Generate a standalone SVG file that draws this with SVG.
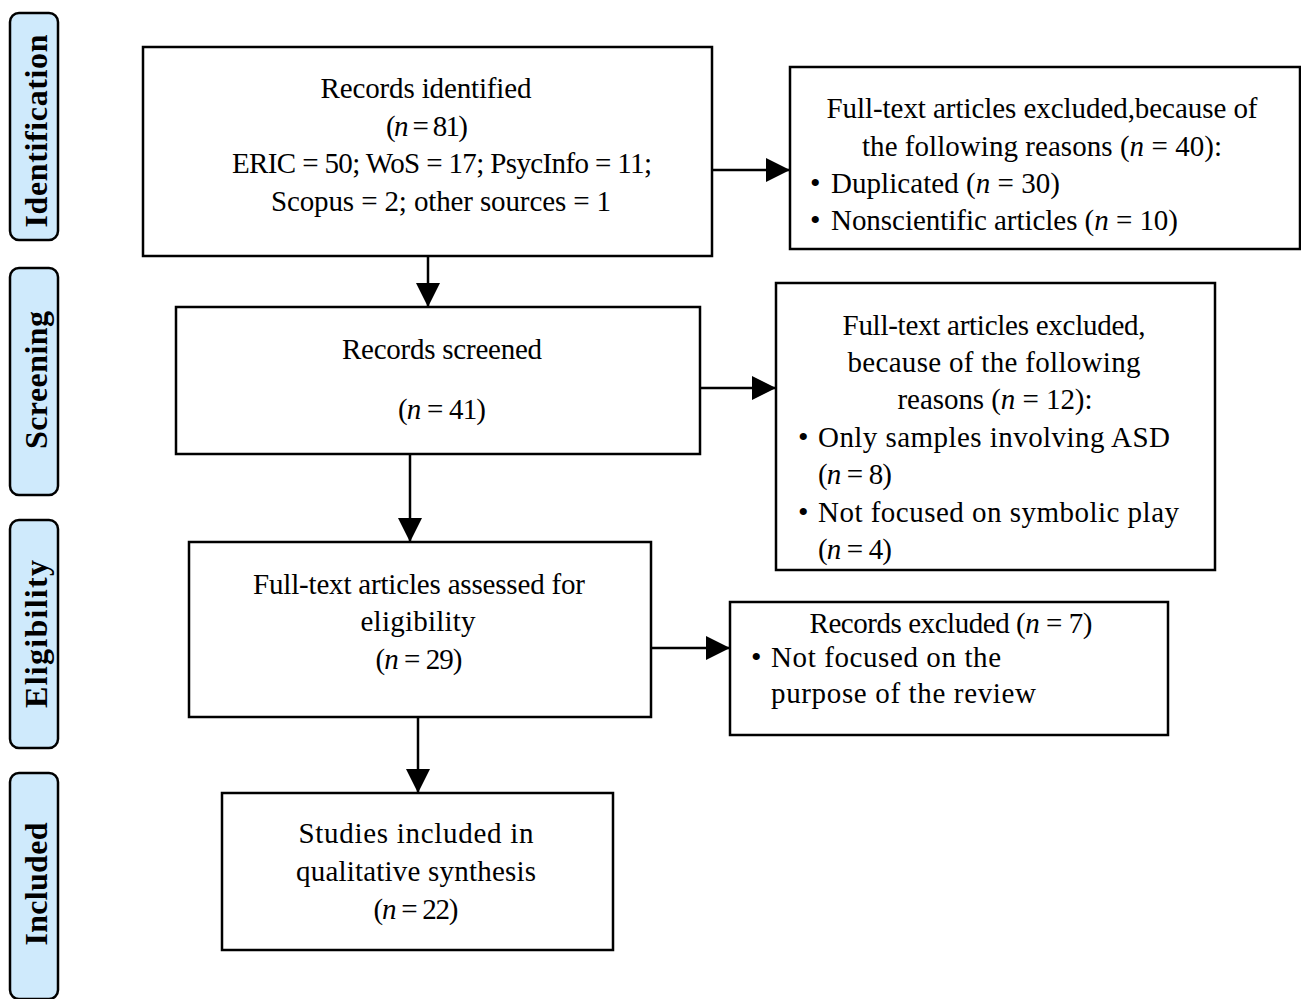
<svg xmlns="http://www.w3.org/2000/svg" width="1301" height="999" viewBox="0 0 1301 999">
<defs>
<marker id="ah" markerWidth="24" markerHeight="24" refX="24" refY="12" orient="auto" markerUnits="userSpaceOnUse" viewBox="0 0 24 24">
<path d="M0,0 L24,12 L0,24 Z" fill="#000"/>
</marker>
<style>
.box{fill:#fff;stroke:#000;stroke-width:2.5}
.side{fill:#cfeafc;stroke:#000;stroke-width:2.5}
.t{font-family:"Liberation Serif","DejaVu Serif",serif;font-size:29px;fill:#000}
.c{text-anchor:middle}
.b{font-family:"Liberation Serif","DejaVu Serif",serif;font-size:30px;fill:#000}
.sl{font-family:"Liberation Serif","DejaVu Serif",serif;font-size:32px;font-weight:bold;fill:#000;text-anchor:middle}
.conn line{stroke:#000;stroke-width:2.5}
.i{font-style:italic}
</style>
</defs>
<rect width="1301" height="999" fill="#fff"/>

<g id="side-identification">
<rect class="side" x="10" y="13" width="48" height="227" rx="9"/>
<text class="sl" transform="translate(47,131) rotate(-90)" textLength="193">Identification</text>
</g>
<g id="side-screening">
<rect class="side" x="10" y="268" width="48" height="227" rx="9"/>
<text class="sl" transform="translate(47,380) rotate(-90)" textLength="138">Screening</text>
</g>
<g id="side-eligibility">
<rect class="side" x="10" y="520" width="48" height="228" rx="9"/>
<text class="sl" transform="translate(47,634) rotate(-90)" textLength="148">Eligibility</text>
</g>
<g id="side-included">
<rect class="side" x="10" y="773" width="48" height="226" rx="9"/>
<text class="sl" transform="translate(47,884) rotate(-90)" textLength="123">Included</text>
</g>

<g id="identified">
<rect class="box" x="143" y="47" width="569" height="209"/>
<text class="t c" x="426" y="98" textLength="211">Records identified</text>
<text class="t c" x="427" y="136" textLength="82">(<tspan class="i">n</tspan> = 81)</text>
<text class="t c" x="442" y="173" textLength="420">ERIC = 50; WoS = 17; PsycInfo = 11;</text>
<text class="t c" x="441" y="211" textLength="340">Scopus = 2; other sources = 1</text>
</g>

<g id="excluded-1">
<rect class="box" x="790" y="67" width="510" height="182"/>
<text class="t c" x="1042" y="118" textLength="431">Full-text articles excluded,because of</text>
<text class="t c" x="1042" y="156" textLength="360">the following reasons (<tspan class="i">n</tspan> = 40):</text>
<text class="b" x="810" y="193">•</text>
<text class="t" x="831" y="193" textLength="229">Duplicated (<tspan class="i">n</tspan> = 30)</text>
<text class="b" x="810" y="230">•</text>
<text class="t" x="831" y="230" textLength="347">Nonscientific articles (<tspan class="i">n</tspan> = 10)</text>
</g>

<g id="screened">
<rect class="box" x="176" y="307" width="524" height="147"/>
<text class="t c" x="442" y="359" textLength="200">Records screened</text>
<text class="t c" x="442" y="419" textLength="88">(<tspan class="i">n</tspan> = 41)</text>
</g>

<g id="excluded-2">
<rect class="box" x="776" y="283" width="439" height="287"/>
<text class="t c" x="994" y="335" textLength="303">Full-text articles excluded,</text>
<text class="t c" x="994" y="372" textLength="293">because of the following</text>
<text class="t c" x="995" y="409" textLength="195">reasons (<tspan class="i">n</tspan> = 12):</text>
<text class="b" x="798" y="447">•</text>
<text class="t" x="818" y="447" textLength="352">Only samples involving ASD</text>
<text class="t" x="818" y="484" textLength="74">(<tspan class="i">n</tspan> = 8)</text>
<text class="b" x="798" y="522">•</text>
<text class="t" x="818" y="522" textLength="361">Not focused on symbolic play</text>
<text class="t" x="818" y="559" textLength="74">(<tspan class="i">n</tspan> = 4)</text>
</g>

<g id="assessed">
<rect class="box" x="189" y="542" width="462" height="175"/>
<text class="t c" x="419" y="594" textLength="332">Full-text articles assessed for</text>
<text class="t c" x="418" y="631" textLength="115">eligibility</text>
<text class="t c" x="419" y="669" textLength="87">(<tspan class="i">n</tspan> = 29)</text>
</g>

<g id="excluded-3">
<rect class="box" x="730" y="602" width="438" height="133"/>
<text class="t c" x="951" y="633" textLength="283">Records excluded (<tspan class="i">n</tspan> = 7)</text>
<text class="b" x="751" y="667">•</text>
<text class="t" x="771" y="667" textLength="230">Not focused on the</text>
<text class="t" x="771" y="703" textLength="265">purpose of the review</text>
</g>

<g id="included">
<rect class="box" x="222" y="793" width="391" height="157"/>
<text class="t c" x="416" y="843" textLength="235">Studies included in</text>
<text class="t c" x="416" y="881" textLength="240">qualitative synthesis</text>
<text class="t c" x="416" y="919" textLength="85">(<tspan class="i">n</tspan> = 22)</text>
</g>

<g id="connectors" class="conn">
<line x1="428" y1="256" x2="428" y2="307" marker-end="url(#ah)"/>
<line x1="712" y1="170" x2="790" y2="170" marker-end="url(#ah)"/>
<line x1="410" y1="454" x2="410" y2="542" marker-end="url(#ah)"/>
<line x1="700" y1="388" x2="776" y2="388" marker-end="url(#ah)"/>
<line x1="418" y1="717" x2="418" y2="793" marker-end="url(#ah)"/>
<line x1="651" y1="648" x2="730" y2="648" marker-end="url(#ah)"/>
</g>
</svg>
